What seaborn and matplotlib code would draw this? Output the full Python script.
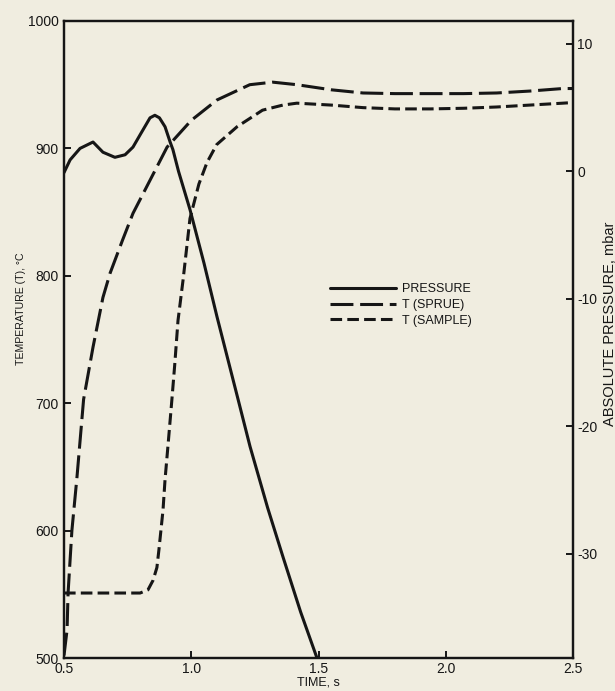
import matplotlib
matplotlib.use("Agg")
import matplotlib.pyplot as plt
import seaborn as sns
from matplotlib.lines import Line2D

# ---------------- data ----------------
time_sprue = [0.500, 0.512, 0.516, 0.531, 0.551, 0.577, 0.614, 0.653, 0.681, 0.730,
              0.771, 0.838, 0.905, 1.000, 1.101, 1.230, 1.320, 1.415, 1.550, 1.675,
              1.800, 1.940, 2.070, 2.200, 2.330, 2.460, 2.500]
temp_sprue = [502, 522, 551, 600, 642, 703, 744, 783, 802, 828,
              849, 875, 901, 922, 938, 950, 952, 950, 946, 943.5,
              943, 943, 943, 943.5, 945, 947, 947]

time_sample = [0.500, 0.600, 0.700, 0.799, 0.830, 0.850, 0.865, 0.873, 0.889, 0.897,
               0.910, 0.924, 0.935, 0.948, 0.968, 0.995, 1.030, 1.062, 1.100, 1.180,
               1.280, 1.360, 1.415, 1.550, 1.675, 1.800, 1.940, 2.070, 2.200, 2.330,
               2.460, 2.500]
temp_sample = [551, 551, 551, 551, 553.5, 561, 571, 585, 616, 640,
               670, 703, 730, 765, 797, 845, 872, 889, 903, 917,
               930, 934, 935.5, 934, 932, 931, 931, 931.5, 932.5, 934,
               935.5, 936]

time_pressure = [0.500, 0.524, 0.563, 0.614, 0.653, 0.700, 0.740, 0.771, 0.800, 0.838,
                 0.857, 0.875, 0.897, 0.917, 0.928, 0.950, 0.995, 1.050, 1.101, 1.184,
                 1.231, 1.300, 1.361, 1.430, 1.494]
pressure = [-0.1, 0.9, 1.8, 2.3, 1.5, 1.1, 1.3, 1.9, 2.9, 4.2,
            4.4, 4.2, 3.5, 2.3, 1.7, 0.0, -3.0, -7.2, -11.4, -17.9,
            -21.6, -26.4, -30.3, -34.6, -38.2]

x_ticks = [0.5, 1.0, 1.5, 2.0, 2.5]
x_ticklabels = ["0.5", "1.0", "1.5", "2.0", "2.5"]
t_ticks = [500, 600, 700, 800, 900, 1000]
p_ticks = [-30, -20, -10, 0, 10]
series_labels = ["PRESSURE", "T (SPRUE)", "T (SAMPLE)"]

# ---------------- style ----------------
sns.set_theme(style="ticks")
plt.rcParams["font.family"] = ["Liberation Sans", "DejaVu Sans"]
plt.rcParams["axes.unicode_minus"] = False
paper = "#f0ede0"
ink = "#161616"

fig = plt.figure(figsize=(6.15, 6.91), dpi=100, facecolor=paper)
ax = fig.add_axes([64 / 615, 1 - 658 / 691, 509 / 615, 637 / 691])
ax.set_facecolor(paper)
ax2 = ax.twinx()

lw = 2.2
sprue_ls = (0, (7.5, 2.2))
sample_ls = (0, (3.8, 1.7))

sns.lineplot(x=time_sprue, y=temp_sprue, ax=ax, color=ink, linewidth=lw,
             linestyle=sprue_ls, sort=False, errorbar=None)
sns.lineplot(x=time_sample, y=temp_sample, ax=ax, color=ink, linewidth=lw,
             linestyle=sample_ls, sort=False, errorbar=None)
sns.lineplot(x=time_pressure, y=pressure, ax=ax2, color=ink, linewidth=lw,
             linestyle="-", sort=False, errorbar=None)

ax.set_xlim(0.5, 2.5)
ax.set_ylim(500, 1000)
ax2.set_ylim(-38.2, 11.8)

ax.set_xticks(x_ticks)
ax.set_xticklabels(x_ticklabels)
ax.set_yticks(t_ticks)
ax2.set_yticks(p_ticks)

for a in (ax, ax2):
    for s in a.spines.values():
        s.set_visible(True)
        s.set_color(ink)
        s.set_linewidth(1.6)
ax.tick_params(axis="both", direction="in", length=5, width=1.4, colors=ink,
               labelsize=10, pad=3)
ax.tick_params(axis="y", pad=4)
ax2.tick_params(axis="y", direction="in", length=5, width=1.4, colors=ink,
                labelsize=10, pad=3)

lab_font = ["Liberation Sans", "DejaVu Sans"]
ax.set_xlabel("TIME, s", fontsize=9, family=lab_font, color=ink, labelpad=0)
ax.set_ylabel("TEMPERATURE (T), °C", fontsize=7.6, family=lab_font, color=ink)
ax.yaxis.set_label_coords(-0.075, 0.549)
ax2.set_ylabel("ABSOLUTE PRESSURE, mbar", fontsize=10.5, family=lab_font, color=ink,
               rotation=90)
ax2.yaxis.set_label_coords(1.058, 0.525)

handles = [Line2D([], [], color=ink, lw=lw, linestyle="-"),
           Line2D([], [], color=ink, lw=lw, linestyle=sprue_ls),
           Line2D([], [], color=ink, lw=lw, linestyle=sample_ls)]
leg = ax.legend(handles, series_labels, loc="upper left",
                bbox_to_anchor=(0.51, 0.598), frameon=False, borderpad=0,
                handlelength=5.3, handletextpad=0.5, labelspacing=0.3,
                prop={"family": lab_font, "size": 9})
for t in leg.get_texts():
    t.set_color(ink)

fig.savefig("out.png", dpi=100, facecolor=paper)
